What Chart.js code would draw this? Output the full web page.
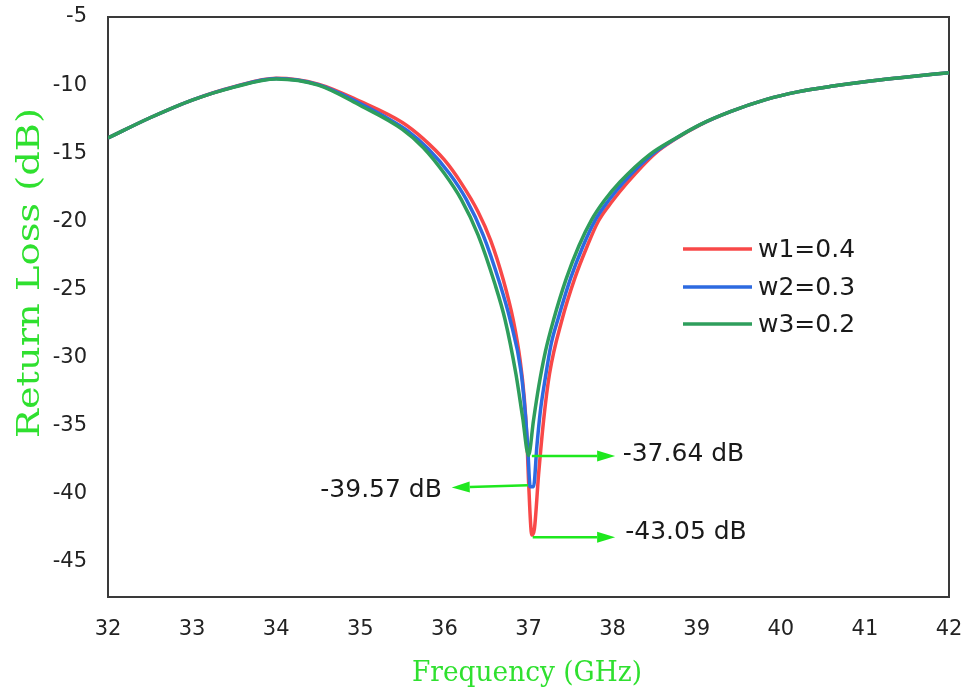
<!DOCTYPE html>
<html lang="en">
<head>
    <meta charset="UTF-8">
    <title>Return Loss</title>
    <script src="https://cdn.jsdelivr.net/npm/chart.js"></script>
    <style>
        html, body { margin: 0; padding: 0; background: #fff; }
        #wrap { width: 979px; height: 695px; }
    </style>
</head>
<body>
    <div id="wrap"><canvas id="myChart" width="979" height="695"></canvas></div>
<script>
    // values
    var seriesNames = ['w1=0.4', 'w2=0.3', 'w3=0.2'];
    var seriesColors = ['#f84848', '#2d6ae0', '#2e9e5c'];

    var freqW1 = [32, 32.5, 33, 33.5, 34, 34.5, 35, 35.5, 35.75, 36, 36.2, 36.4, 36.55, 36.7, 36.82, 36.9, 36.95, 36.98, 37.0, 37.04, 37.07, 37.12, 37.18, 37.25, 37.4, 37.55, 37.7, 37.83, 38.0, 38.17, 38.5, 38.75, 39.04, 39.4, 39.83, 40.2, 40.62, 41, 41.42, 42];
    var lossW1 = [-13.89, -12.4, -11.1, -10.12, -9.5, -9.93, -11.2, -12.75, -13.95, -15.5, -17.2, -19.3, -21.4, -24.3, -27.3, -30.2, -33.0, -35.8, -39.0, -43.05, -42.6, -38.6, -34.6, -31.2, -27.2, -24.2, -21.8, -20.0, -18.5, -17.2, -15.05, -13.95, -12.92, -11.95, -11.05, -10.5, -10.07, -9.75, -9.46, -9.09];

    var freqW2 = [32, 32.5, 33, 33.5, 34, 34.5, 35, 35.3, 35.56, 35.81, 36.06, 36.26, 36.46, 36.66, 36.78, 36.91, 36.96, 36.99, 37.02, 37.06, 37.1, 37.14, 37.2, 37.27, 37.35, 37.5, 37.65, 37.79, 37.95, 38.13, 38.47, 38.75, 39.04, 39.4, 39.83, 40.2, 40.62, 41, 41.42, 42];
    var lossW2 = [-13.89, -12.4, -11.1, -10.13, -9.52, -9.97, -11.35, -12.35, -13.35, -14.7, -16.5, -18.4, -21.0, -24.6, -27.2, -31.0, -34.0, -36.5, -39.5, -39.5, -36.5, -34.0, -31.5, -29.0, -27.2, -24.2, -21.8, -19.95, -18.5, -17.15, -15.1, -13.92, -12.91, -11.95, -11.05, -10.5, -10.07, -9.75, -9.46, -9.09];

    var freqW3 = [32, 32.5, 33, 33.5, 34, 34.5, 35, 35.5, 35.75, 36, 36.2, 36.4, 36.6, 36.72, 36.85, 36.93, 37.0, 37.06, 37.12, 37.2, 37.3, 37.45, 37.6, 37.75, 37.9, 38.09, 38.44, 38.75, 39.04, 39.4, 39.83, 40.2, 40.62, 41, 41.42, 42];
    var lossW3 = [-13.89, -12.4, -11.1, -10.15, -9.55, -10.0, -11.5, -13.25, -14.6, -16.5, -18.4, -21.0, -24.6, -27.2, -31.2, -34.4, -37.2, -34.6, -32.2, -29.6, -27.2, -24.2, -21.8, -19.9, -18.5, -17.1, -15.1, -13.9, -12.9, -11.95, -11.05, -10.5, -10.07, -9.75, -9.46, -9.09];

    var xTicks = [32, 33, 34, 35, 36, 37, 38, 39, 40, 41, 42];
    var yTicks = [-45, -40, -35, -30, -25, -20, -15, -10, -5];

    // dip labels: text, arrow start/end (GHz, dB), text anchor
    var noteTexts = ['-37.64 dB', '-39.57 dB', '-43.05 dB'];
    var noteFrom = [[37.04, -37.24], [36.994, -39.40], [37.05, -43.21]];
    var noteTo = [[38.03, -37.24], [36.087, -39.55], [38.03, -43.21]];
    var noteAt = [[38.12, -37.17], [35.97, -39.76], [38.15, -42.85]];

    var green = '#2fe02f';
    var arrowGreen = '#1ee81e';

    function pts(f, v) {
        return f.map(function (x, i) { return { x: x, y: v[i] }; });
    }

    function scaledText(ctx, text, cx, cy, w, rot) {
        ctx.save();
        ctx.translate(cx, cy);
        if (rot) ctx.rotate(rot);
        var m = ctx.measureText(text).width;
        ctx.scale(w / m, 1);
        ctx.textAlign = 'center';
        ctx.textBaseline = 'middle';
        ctx.fillText(text, 0, 0);
        ctx.restore();
    }

    function arrow(ctx, x1, y1, x2, y2) {
        var a = Math.atan2(y2 - y1, x2 - x1);
        var hl = 18, hw = 5.5;
        ctx.beginPath();
        ctx.moveTo(x1, y1);
        ctx.lineTo(x2 - hl * Math.cos(a), y2 - hl * Math.sin(a));
        ctx.stroke();
        ctx.beginPath();
        ctx.moveTo(x2, y2);
        ctx.lineTo(x2 - hl * Math.cos(a) + hw * Math.sin(a), y2 - hl * Math.sin(a) - hw * Math.cos(a));
        ctx.lineTo(x2 - hl * Math.cos(a) - hw * Math.sin(a), y2 - hl * Math.sin(a) + hw * Math.cos(a));
        ctx.closePath();
        ctx.fill();
    }

    var extras = {
        id: 'extras',
        beforeDatasetsDraw: function (chart) {
            var ctx = chart.ctx, a = chart.chartArea;
            ctx.save();
            ctx.strokeStyle = '#3a3a3a';
            ctx.lineWidth = 2;
            ctx.strokeRect(a.left, a.top, a.right - a.left, a.bottom - a.top);
            ctx.restore();
        },
        afterDraw: function (chart) {
            var ctx = chart.ctx, xs = chart.scales.x, ys = chart.scales.y;
            ctx.save();
            // arrows + labels
            ctx.strokeStyle = arrowGreen;
            ctx.fillStyle = arrowGreen;
            ctx.lineWidth = 2.5;
            for (var i = 0; i < noteTexts.length; i++) {
                arrow(ctx,
                    xs.getPixelForValue(noteFrom[i][0]), ys.getPixelForValue(noteFrom[i][1]),
                    xs.getPixelForValue(noteTo[i][0]), ys.getPixelForValue(noteTo[i][1]));
            }
            ctx.fillStyle = '#1a1a1a';
            ctx.font = '25px "DejaVu Sans"';
            ctx.textBaseline = 'middle';
            for (var j = 0; j < noteTexts.length; j++) {
                ctx.textAlign = j == 1 ? 'right' : 'left';
                ctx.fillText(noteTexts[j], xs.getPixelForValue(noteAt[j][0]), ys.getPixelForValue(noteAt[j][1]));
            }
            // legend
            var ly = [249, 287, 324];
            for (var k = 0; k < seriesNames.length; k++) {
                ctx.strokeStyle = seriesColors[k];
                ctx.lineWidth = 3.5;
                ctx.beginPath();
                ctx.moveTo(683, ly[k]);
                ctx.lineTo(752, ly[k]);
                ctx.stroke();
                ctx.fillStyle = '#1a1a1a';
                ctx.textAlign = 'left';
                ctx.fillText(seriesNames[k], 758, ly[k] + 1);
            }
            // axis titles
            ctx.fillStyle = green;
            ctx.font = '28px "DejaVu Serif"';
            scaledText(ctx, 'Frequency (GHz)', 527, 674, 230, 0);
            ctx.font = '32px "DejaVu Serif"';
            scaledText(ctx, 'Return Loss (dB)', 31, 273, 330, -Math.PI / 2);
            ctx.restore();
        }
    };

    var tickFont = { family: '"DejaVu Sans"', size: 21 };

    new Chart(document.querySelector('#myChart'), {
        type: 'line',
        data: {
            datasets: [
                { label: seriesNames[0], data: pts(freqW1, lossW1), borderColor: seriesColors[0], order: 3 },
                { label: seriesNames[1], data: pts(freqW2, lossW2), borderColor: seriesColors[1], order: 2 },
                { label: seriesNames[2], data: pts(freqW3, lossW3), borderColor: seriesColors[2], order: 1 }
            ]
        },
        options: {
            responsive: false,
            animation: false,
            datasets: {
                line: {
                    borderWidth: 3.5,
                    pointRadius: 0,
                    fill: false,
                    cubicInterpolationMode: 'monotone'
                }
            },
            layout: { padding: { left: 0, right: 30, top: 17, bottom: 0 } },
            scales: {
                x: {
                    type: 'linear',
                    min: 32,
                    max: 42,
                    afterBuildTicks: function (axis) { axis.ticks = xTicks.map(function (v) { return { value: v }; }); },
                    afterFit: function (axis) {
                        axis.height = 98;
                        axis.paddingLeft = 0;
                        axis.paddingRight = 0;
                    },
                    grid: { display: false, drawTicks: false },
                    border: { display: false },
                    ticks: { font: tickFont, color: '#222', padding: 20, maxRotation: 0 }
                },
                y: {
                    min: -47.6,
                    max: -5,
                    afterBuildTicks: function (axis) { axis.ticks = yTicks.map(function (v) { return { value: v }; }); },
                    afterFit: function (axis) {
                        axis.width = 108;
                        axis.paddingTop = 0;
                        axis.paddingBottom = 0;
                    },
                    grid: { display: false, drawTicks: false },
                    border: { display: false },
                    ticks: { font: tickFont, color: '#222', padding: 21 }
                }
            },
            plugins: {
                legend: { display: false },
                tooltip: { enabled: false }
            }
        },
        plugins: [extras]
    });
</script>
</body>
</html>
